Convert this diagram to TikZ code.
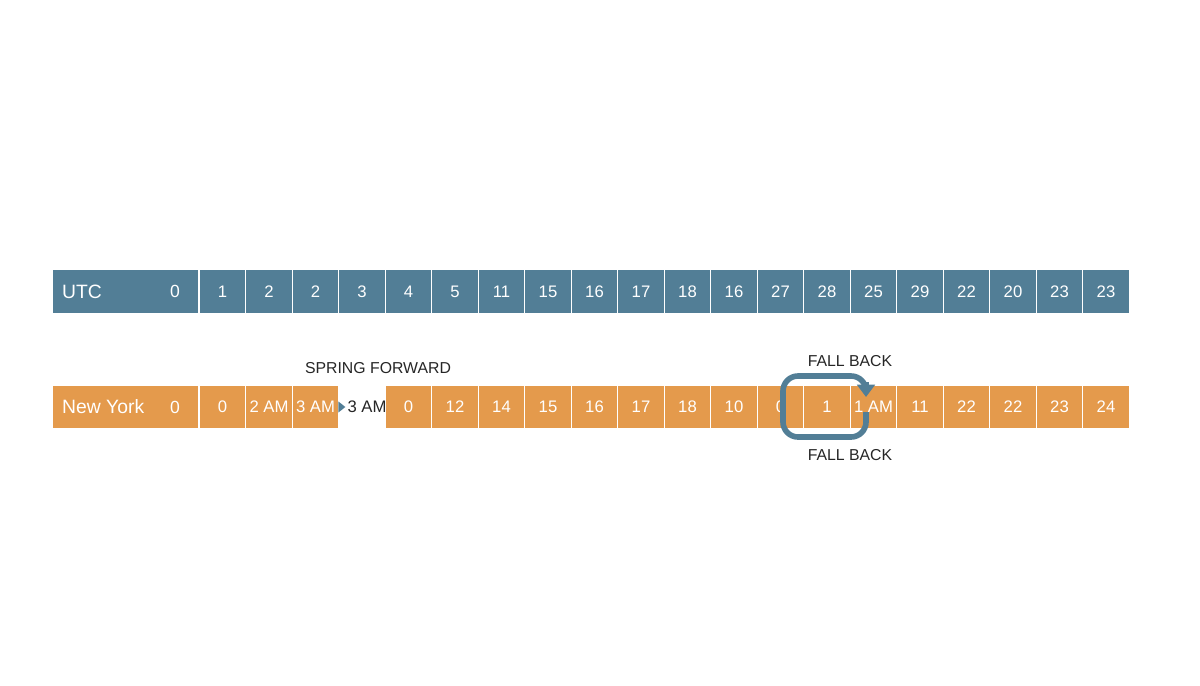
\documentclass[tikz,border=0pt]{standalone}
\usepackage{fontspec}
\setmainfont{Liberation Sans}
\usetikzlibrary{positioning}
\usetikzlibrary{arrows.meta}
\definecolor{utcblue}{RGB}{82,126,150}
\definecolor{nyorange}{RGB}{228,154,76}
\tikzset{
  cell/.style={draw=white, line width=0.6pt, minimum width=0.93cm, minimum height=0.88cm, inner sep=0pt, text=white, font=\fontsize{9.5}{11}\selectfont},
  head/.style={cell, minimum width=2.94cm},
  loopline/.style={utcblue, line width=3.2pt, rounded corners=0.3cm},
  note/.style={font=\fontsize{9}{11}\selectfont, text=black!85}
}
\begin{document}
\begin{tikzpicture}[x=0.02cm, y=-0.02cm]
        \useasboundingbox (0,0) rectangle (1200,686);
        % utc row %
        \node[head, fill=utcblue] (u0) at (125.5,291.5) {};
        \node[text=white, font=\fontsize{11}{13}\selectfont, right] at (56,291.5) {UTC};
        \node[text=white, font=\fontsize{10}{12}\selectfont] at (175,291.5) {0};
        \foreach \v [count=\i] in {1,2,2,3,4,5,11,15,16,17,18,16,27,28,25,29,22,20,23,23}
          \node[cell, fill=utcblue] (u\i) at (176+46.5*\i,291.5) {\v};
        % new york row %
        \node[head, fill=nyorange] (n0) at (125.5,407) {};
        \node[text=white, font=\fontsize{11}{13}\selectfont, right] at (56,407) {New York};
        \node[text=white, font=\fontsize{10}{12}\selectfont] at (175,407) {0};
        \foreach \v [count=\i] in {0,2 AM,3 AM}
          \node[cell, fill=nyorange] (n\i) at (176+46.5*\i,407) {\v};
        \foreach \v [count=\i from 5] in {0,12,14,15,16,17,18,10,0,1,1 AM,11,22,22,23,24}
          \node[cell, fill=nyorange] (n\i) at (176+46.5*\i,407) {\v};
        % spring forward %
        \node[note, font=\fontsize{9.5}{11}\selectfont, inner sep=1pt] (sp) at (367,407) {3 AM};
        \draw[-{Triangle[length=4pt,width=6pt]}, utcblue, line width=1.8pt] (n3.east) -- (sp.west);
        \node[note] (sf) at (378,368) {SPRING FORWARD};
        % fall back %
        \coordinate (a1) at (783,414);
        \coordinate (a2) at (866,397);
        \coordinate (b1) at (783,398);
        \coordinate (b2) at (866,412);
        \draw[loopline] (a1) |- (866,376) -- ++(0,8);
        \draw[utcblue, line width=3.2pt, -{Triangle[length=7pt,width=10pt]}] (866,382) -- (a2);
        \draw[loopline] (b1) |- (866,437) -- (b2);
        \node[note] (fb1) at (850,361) {FALL BACK};
        \node[note] (fb2) at (850,455) {FALL BACK};
\end{tikzpicture}
\end{document}
